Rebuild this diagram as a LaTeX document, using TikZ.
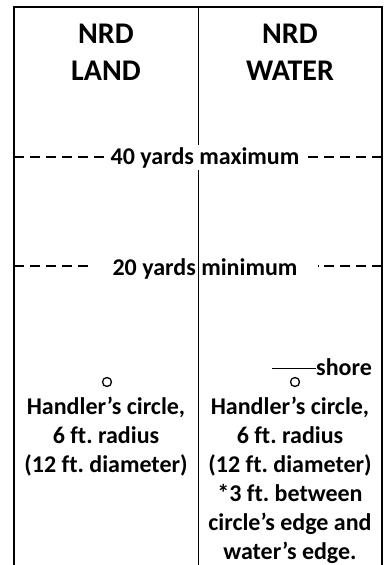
\documentclass[tikz,border=0pt]{standalone}
\usepackage{fontspec}
\setmainfont{Carlito}[Ligatures=NoCommon]
\frenchspacing
\begin{document}
\begin{tikzpicture}[x=1pt,y=-1pt,
  head/.style={font=\fontsize{30}{37}\selectfont\bfseries, anchor=base, inner sep=0pt},
  body/.style={font=\fontsize{24}{29}\selectfont\bfseries, anchor=base, inner sep=0pt},
  border/.style={line width=1.3pt},
  thin/.style={line width=1pt},
  dashline/.style={line width=1.3pt, dash pattern=on 10pt off 6pt},
  ring/.style={circle, draw, line width=1.3pt, minimum size=9pt, inner sep=0pt}]
\useasboundingbox (0,0) rectangle (387,565);
% frame
\coordinate (tl) at (14,7);
\coordinate (tm) at (198,7);
\coordinate (tr) at (382,7);
\coordinate (bl) at (14,565);
\coordinate (bm) at (198,565);
\coordinate (br) at (382,565);
\draw[border] (bl) -- (tl) -- (tr) -- (br);
\draw[thin] (tm) -- (bm);
% headings
\node[head] (nrd1) at (106,43) {NRD};
\node[head] (land) at (106,80) {LAND};
\node[head] (nrd2) at (290,43) {NRD};
\node[head] (water) at (290,80) {WATER};
% 40 yards
\coordinate (d40l) at (14,157);
\coordinate (d40r) at (382,157);
\node[body, fill=white, inner xsep=5pt, inner ysep=2pt] (t40) at (205,164) {40 yards maximum};
\draw[dashline] (d40l) -- (d40l -| t40.west);
\draw[dashline] (d40r) -- (d40r -| t40.east);
% 20 yards
\coordinate (d20l) at (14,266);
\coordinate (d20r) at (382,266);
\node[body, inner xsep=20pt] (t20) at (205,275) {20 yards minimum};
\draw[dashline] (d20l) -- (d20l -| t20.west);
\draw[dashline] (d20r) -- (d20r -| t20.east);
% land column
\node[ring] (c1) at (107,382) {};
\node[body] (l1) at (106,414) {Handler’s circle,};
\node[body] (l2) at (106,443) {6 ft. radius};
\node[body] (l3) at (106,472) {(12 ft. diameter)};
% water column
\node[ring] (c2) at (295,382) {};
\coordinate (shoreL) at (272,368);
\node[body, anchor=base west] (shore) at (316,375) {shore};
\draw[thin] (shoreL) -- (shoreL -| shore.west);
\node[body] (w1) at (290,414) {Handler’s circle,};
\node[body] (w2) at (290,443) {6 ft. radius};
\node[body] (w3) at (290,472) {(12 ft. diameter)};
\node[body] (w4) at (290,501) {*3 ft. between};
\node[body] (w5) at (290,530) {circle’s edge and};
\node[body] (w6) at (290,559) {water’s edge.};
\end{tikzpicture}
\end{document}
